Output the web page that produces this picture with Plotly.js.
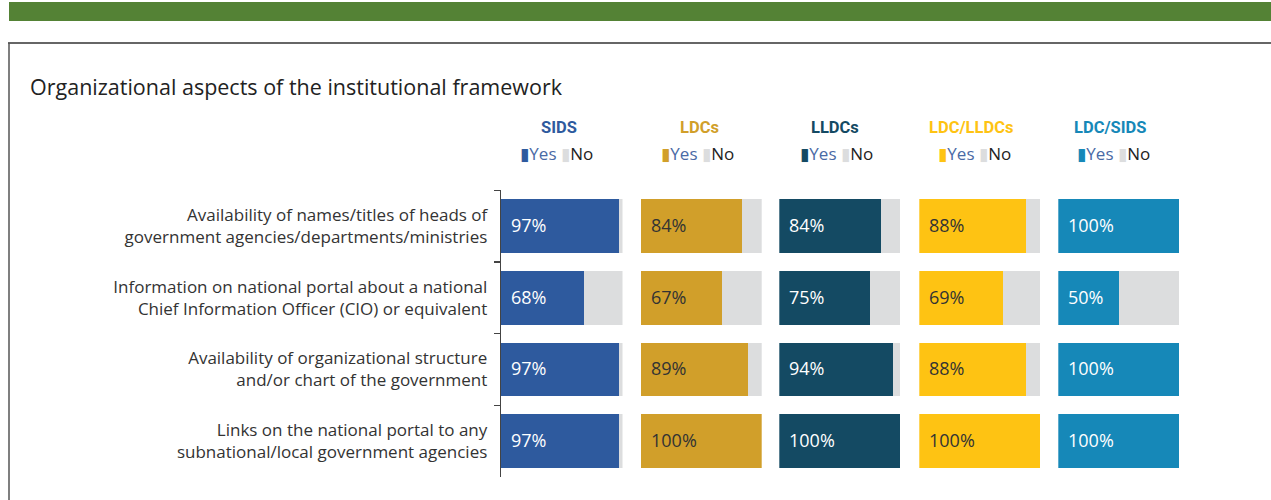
<!DOCTYPE html>
<html>
<head>
<meta charset="utf-8">
<script src="https://cdn.plot.ly/plotly-3.0.1.min.js"></script>
<style>html,body{margin:0;padding:0;background:#fff;}#chart{width:1271px;height:500px;}</style>
</head>
<body>
<div id="chart"></div>
<script>
// ---- data ----
const categories = [
  "Availability of names/titles of heads of<br>government agencies/departments/ministries",
  "Information on national portal about a national<br>Chief Information Officer (CIO) or equivalent",
  "Availability of organizational structure<br>and/or chart of the government",
  "Links on the national portal to any<br>subnational/local government agencies"
];
const groups = ["SIDS", "LDCs", "LLDCs", "LDC/LLDCs", "LDC/SIDS"];
const yesSIDS = [97, 68, 97, 97];
const noSIDS = [3, 32, 3, 3];
const yesLDCs = [84, 67, 89, 100];
const noLDCs = [16, 33, 11, 0];
const yesLLDCs = [84, 75, 94, 100];
const noLLDCs = [16, 25, 6, 0];
const yesLDCLLDCs = [88, 69, 88, 100];
const noLDCLLDCs = [12, 31, 12, 0];
const yesLDCSIDS = [100, 50, 100, 100];
const noLDCSIDS = [0, 50, 0, 0];
const legendLabels = ["Yes", "No"];

const yesSeries = [yesSIDS, yesLDCs, yesLLDCs, yesLDCLLDCs, yesLDCSIDS];
const noSeries = [noSIDS, noLDCs, noLLDCs, noLDCLLDCs, noLDCSIDS];

// ---- styles ----
const W = 1271, H = 500;
const colors = ["#2E5A9E", "#D19F2A", "#144A63", "#FEC313", "#1688B8"];
const labelColors = ["#ffffff", "#333333", "#ffffff", "#333333", "#ffffff"];
const grey = "#DCDDDE";
const panelPx = [[501, 622.5], [640.7, 761.7], [779.3, 900.3], [919.3, 1040.3], [1058.3, 1179.3]];
const headerX = [48, 49, 46, 43, 43];
const legendX = [46, 47, 47, 46, 46];
const yTopPx = 190.3, yBotPx = 477;
const FONT = "'Open Sans', 'Noto Sans', sans-serif";
const COND = "Roboto, 'Open Sans', sans-serif";

const traces = [];
const annotations = [];
const layout = {
  width: W, height: H,
  margin: {l: 0, r: 0, t: 0, b: 0},
  paper_bgcolor: "#fff", plot_bgcolor: "rgba(0,0,0,0)",
  barmode: "stack", bargap: 0.25, showlegend: false,
  font: {family: FONT, color: "#333", size: 16},
  yaxis: {
    type: "category", categoryorder: "array", categoryarray: categories,
    range: [3.5, -0.5], domain: [1 - yBotPx / H, 1 - yTopPx / H], anchor: "x",
    showline: true, linecolor: "#444", linewidth: 1.3,
    ticks: "outside", tickson: "boundaries", ticklen: 6, tickcolor: "#444", tickwidth: 1.3,
    showgrid: false, zeroline: false, fixedrange: true,
    tickfont: {family: FONT, size: 17, color: "#333"}, ticklabelstandoff: 9
  },
  shapes: [
    {type: "rect", xref: "paper", yref: "paper", x0: 9 / W, x1: 1, y0: 1 - 21 / H, y1: 1 - 2 / H,
     fillcolor: "#548235", line: {width: 0}, layer: "below"},
    {type: "line", xref: "paper", yref: "paper", x0: 8 / W, x1: 1, y0: 1 - 43 / H, y1: 1 - 43 / H,
     line: {color: "#333", width: 1.5}},
    {type: "line", xref: "paper", yref: "paper", x0: 9 / W, x1: 9 / W, y0: 0, y1: 1 - 43 / H,
     line: {color: "#555", width: 1.5}}
  ],
  annotations: annotations
};

groups.forEach((g, i) => {
  const xa = i === 0 ? "x" : "x" + (i + 1);
  const key = i === 0 ? "xaxis" : "xaxis" + (i + 1);
  layout[key] = {
    domain: [panelPx[i][0] / W, panelPx[i][1] / W], range: [0, 100], anchor: "y",
    visible: false, fixedrange: true
  };
  traces.push({
    type: "bar", orientation: "h", name: legendLabels[0], x: yesSeries[i], y: categories,
    xaxis: xa, yaxis: "y", marker: {color: colors[i], line: {width: 0}}, hoverinfo: "x+y"
  });
  traces.push({
    type: "bar", orientation: "h", name: legendLabels[1], x: noSeries[i], y: categories,
    xaxis: xa, yaxis: "y", marker: {color: grey, line: {width: 0}}, hoverinfo: "x+y"
  });
  yesSeries[i].forEach((v, j) => {
    annotations.push({
      xref: xa, yref: "y", x: 0, y: categories[j], xanchor: "left", yanchor: "middle",
      xshift: 8, yshift: 1, showarrow: false, text: v + "%",
      font: {family: FONT, size: 18, color: labelColors[i]}
    });
  });
  annotations.push({
    xref: xa, yref: "paper", x: headerX[i], y: 1 - 127.5 / H, xanchor: "center", yanchor: "middle",
    showarrow: false, text: "<b>" + g + "</b>",
    font: {family: COND, size: 16.5, color: colors[i]}
  });
  annotations.push({
    xref: xa, yref: "paper", x: legendX[i], y: 1 - 153 / H, xanchor: "center", yanchor: "middle",
    showarrow: false,
    text: "<span style='color:" + colors[i] + ";font-family:DejaVu Sans;font-size:17px'>▮</span><span style='color:#4A6AA5'>" + legendLabels[0] +
          "</span> <span style='color:" + grey + ";font-family:DejaVu Sans;font-size:17px'>▮</span><span style='color:#222'>" + legendLabels[1] + "</span>",
    font: {family: FONT, size: 17, color: "#222"}
  });
});

annotations.push({
  xref: "paper", yref: "paper", x: 28 / W, y: 1 - 87 / H, xanchor: "left", yanchor: "middle",
  showarrow: false, text: "Organizational aspects of the institutional framework",
  font: {family: FONT, size: 21.5, color: "#222"}
});

Plotly.newPlot("chart", traces, layout, {displayModeBar: false, staticPlot: true});
</script>
</body>
</html>
